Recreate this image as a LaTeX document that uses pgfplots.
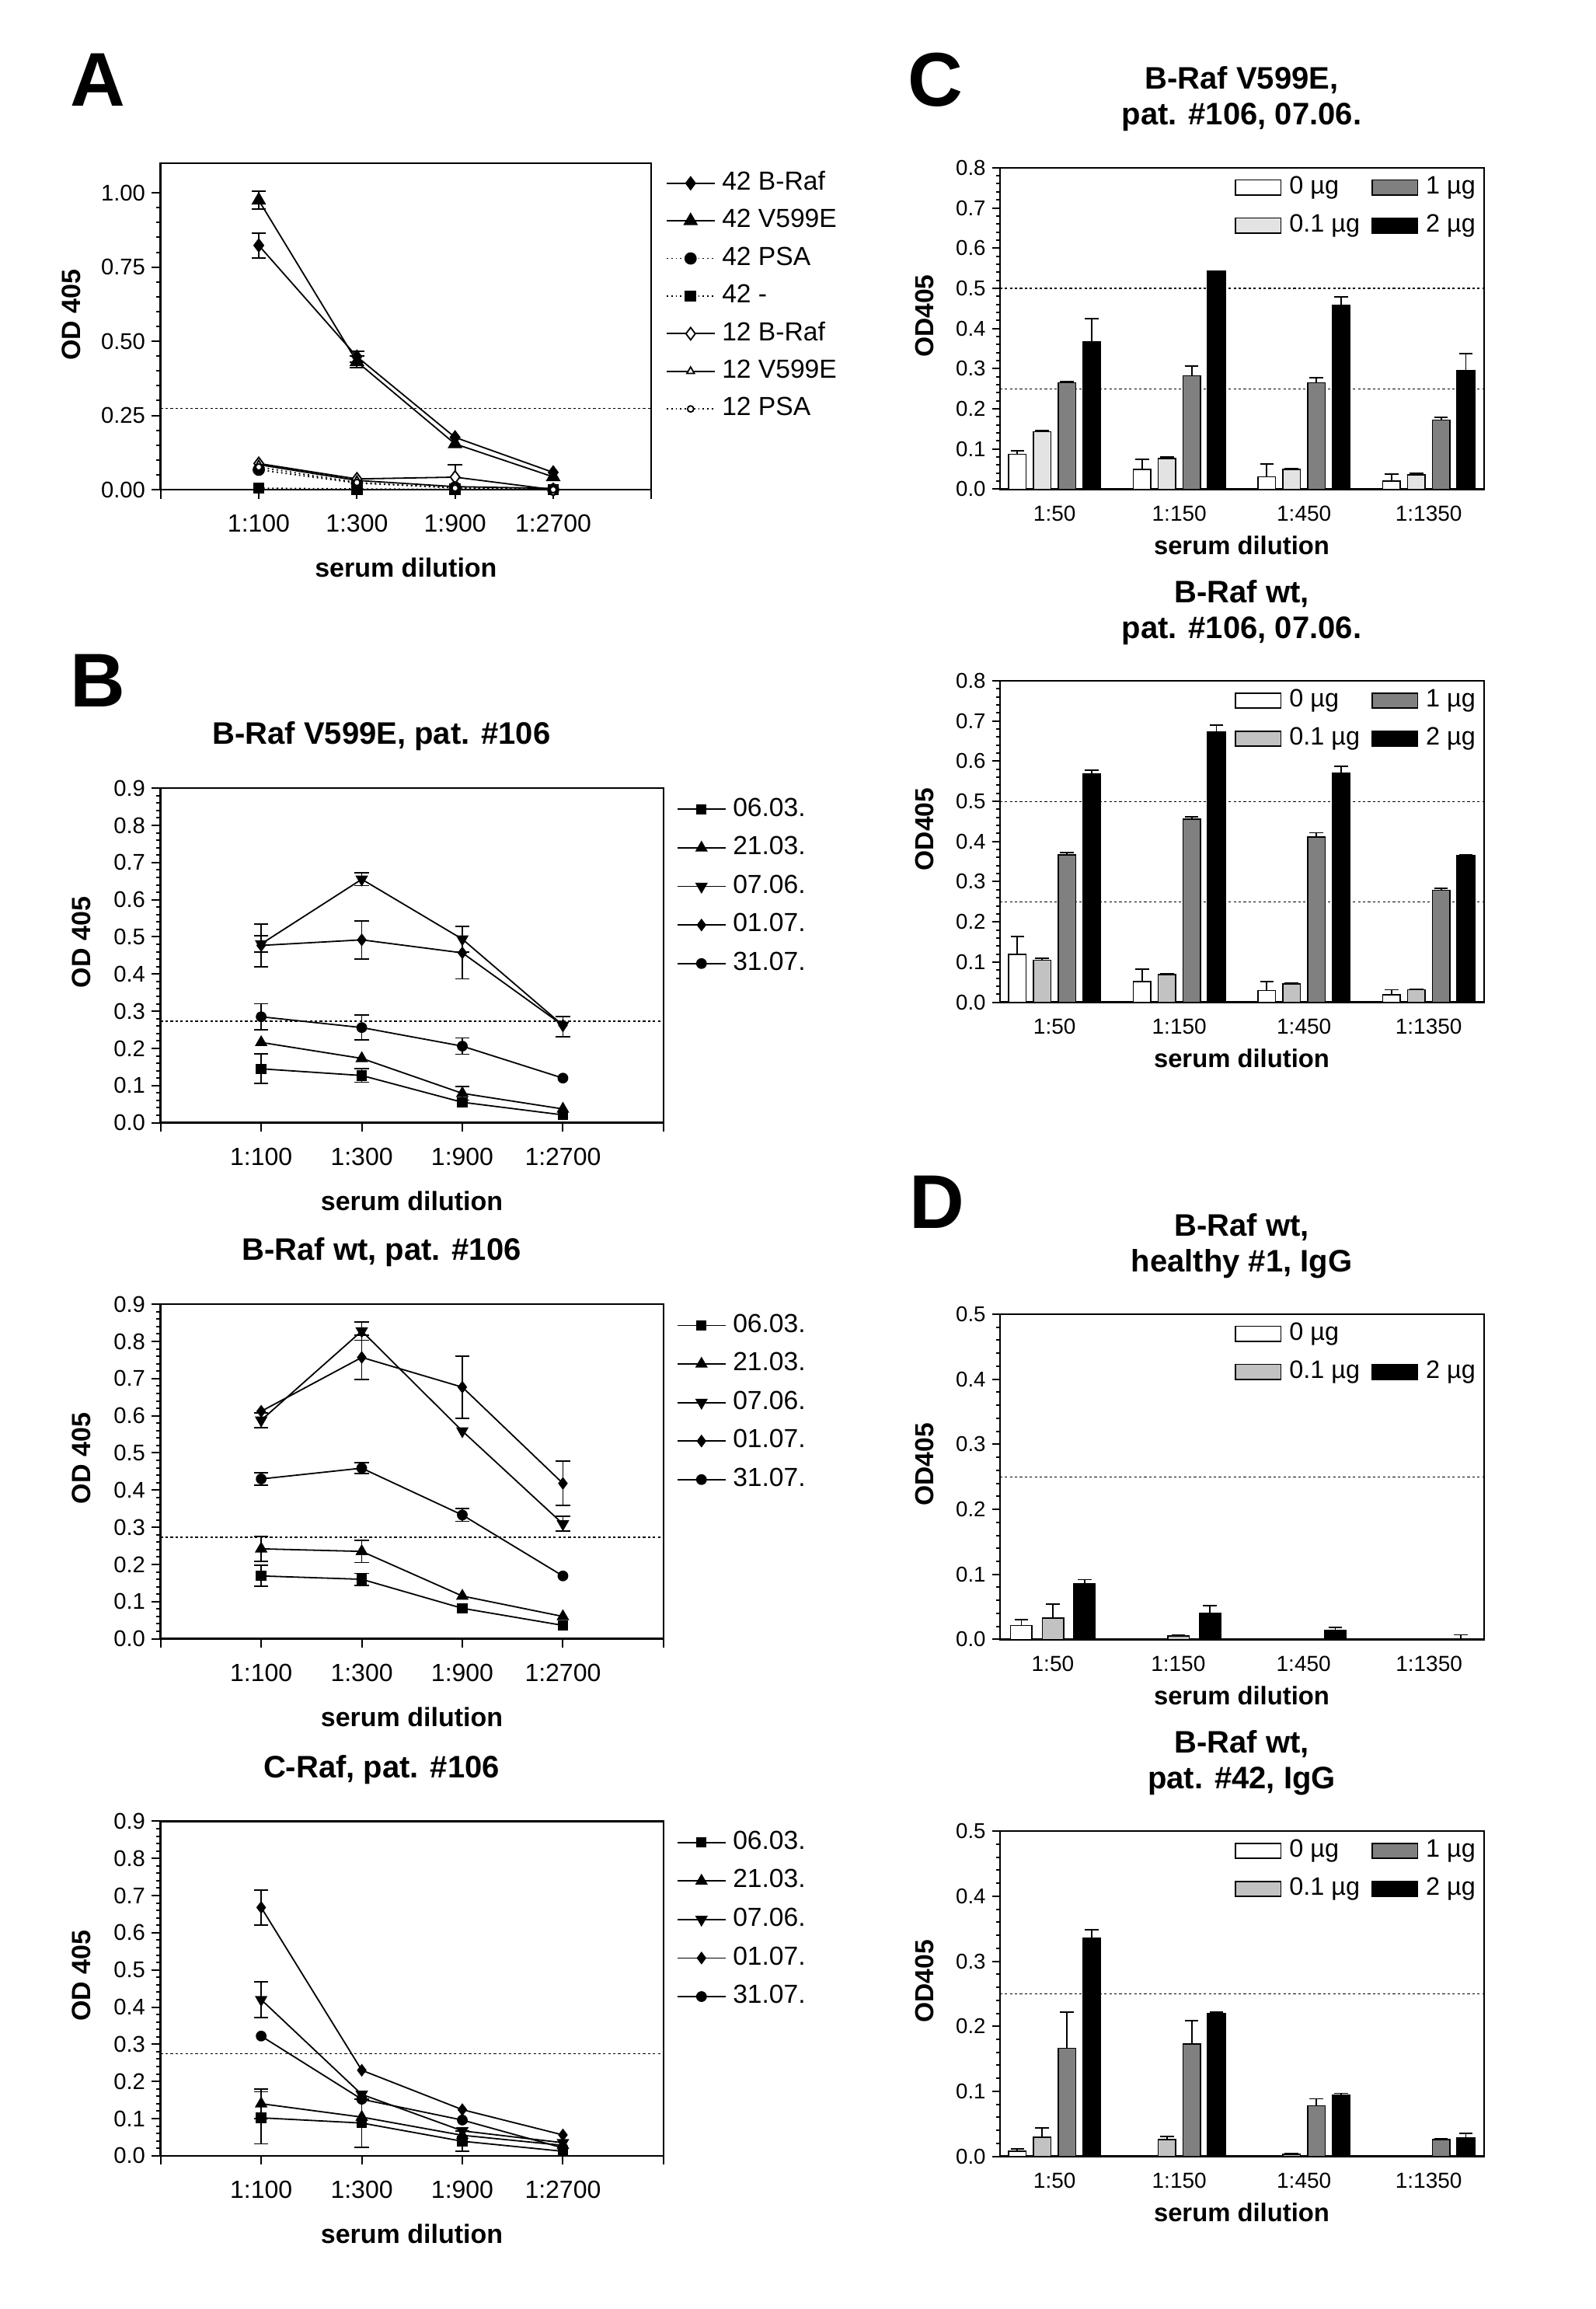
\documentclass[border=0pt]{standalone}
\usepackage{fontspec}
\setmainfont{Liberation Sans}
\usepackage{pgfplots}
\pgfplotsset{compat=1.18}

\newcommand\fs[1]{\fontsize{#1}{#1}\selectfont}

\definecolor{lightgr}{gray}{0.89}
\definecolor{midgr}{gray}{0.76}
\definecolor{darkgr}{gray}{0.5}

\pgfplotsset{
  panel/.style={
    scale only axis, anchor=south west, clip=false,
    axis line style={line width=0.6pt},
    tick style={black, line width=0.5pt},
    tick align=outside, tick pos=left,
    ymin=0, minor y tick num=4,
    /pgf/number format/assume math mode=true,
    yticklabel style={xshift=1.5pt, /pgf/number format/fixed,
      /pgf/number format/fixed zerofill, /pgf/number format/precision=1},
  },
  lines/.style={panel,
    width=161.8pt, height=107.6pt,
    major tick length=2.9pt, minor tick length=1.4pt,
    xmin=0, xmax=5, xtick={0,1,2,3,4,5},
    xticklabels={,1:100,1:300,1:900,1:2700,},
    ymax=0.9, ytick={0,0.1,0.2,0.3,0.4,0.5,0.6,0.7,0.8,0.9},
    xticklabel style={font=\fs{8}, yshift=-1.6pt},
    yticklabel style={font=\fs{7.3}},
    legend style={at={(1,1)}, anchor=north west, xshift=4.1pt, yshift=-0.4pt,
      draw=none, fill=none, inner sep=0pt, column sep=2.2pt, row sep=0pt,
      font=\fs{8.4}, nodes={inner sep=0pt, minimum height=12.4pt}},
    legend cell align=left,
    legend image code/.code={\draw[mark repeat=2, mark phase=2, ##1]
      plot coordinates {(0pt,0pt) (7.7pt,0pt) (15.4pt,0pt)};},
  },
  bars/.style={panel,
    width=155.75pt, height=103.4pt,
    major tick length=2.5pt, minor tick length=1.3pt,
    xmin=0, xmax=623, ymax=0.8,
    ytick={0,0.1,0.2,0.3,0.4,0.5,0.6,0.7,0.8},
    xtick={70.5,231,391.5,552}, xticklabels={1:50,1:150,1:450,1:1350},
    xtick style={draw=none},
    xticklabel style={font=\fs{7}, yshift=0.7pt},
    yticklabel style={font=\fs{6.9}},
    legend style={at={(1,1)}, anchor=north east, xshift=-2.5pt, yshift=0pt,
      draw=none, fill=none, inner sep=0pt, row sep=0pt,
      font=\fs{8.1}, nodes={inner sep=0pt, minimum height=12.25pt},
      /tikz/every odd column/.append style={column sep=2.5pt},
      /tikz/every even column/.append style={column sep=3.75pt}},
    legend cell align=left, transpose legend, legend columns=2,
  },
  ser/.style={black, line width=0.45pt},
  err/.style={forget plot, draw=none, mark=none,
    error bars/y dir=both, error bars/y explicit,
    error bars/error bar style={draw=black, line width=0.45pt, solid},
    error bars/error mark options={draw=black, rotate=90, mark size=2.3pt, line width=0.45pt, solid}},
  berr/.style={forget plot, draw=none, mark=none,
    error bars/y dir=plus, error bars/y explicit,
    error bars/error bar style={draw=black, line width=0.45pt, solid},
    error bars/error mark options={draw=black, rotate=90, mark size=2.2pt, line width=0.45pt, solid}},
  obar/.style={ybar, bar width=#1, bar shift=0pt, draw=black, line width=0.4pt,
    legend image code/.code={\draw[##1] (0pt,-2.4pt) rectangle (14.6pt,2.4pt);}},
  cut/.style={forget plot, black, line width=0.3pt, dash pattern=on 0.8pt off 0.8pt},
  m1/.style={ser, mark=square*, mark size=1.45pt, mark options={solid}},
  m2/.style={ser, mark=triangle*, mark size=1.9pt, mark options={solid}},
  m3/.style={ser, mark=triangle*, mark size=1.9pt, mark options={solid, rotate=180}},
  m4/.style={ser, mark=diamond*, mark size=1.7pt, mark options={solid}},
  m5/.style={ser, mark=*, mark size=1.5pt, mark options={solid}},
}

\begin{document}
\begin{tikzpicture}
\path[use as bounding box] (0,0) rectangle (513.5pt,742.75pt);

% ---------- A ----------
\begin{axis}[lines, at={(51.675pt,585.25pt)}, width=157.9pt, height=105pt,
  ymax=1.1, ytick={0,0.25,0.5,0.75,1},
  yticklabel style={/pgf/number format/precision=2},
  legend style={xshift=0.4pt, yshift=0.2pt, nodes={minimum height=12.1pt}}]
\addplot[cut] coordinates {(0,0.273) (5,0.273)};
\addplot[err] coordinates {(1,0.823) +- (0,0.042) (2,0.448) +- (0,0.018)};
\addplot[err] coordinates {(1,0.975) +- (0,0.03) (2,0.431) +- (0,0.02)};
\addplot[err] coordinates {(3,0.042) +- (0,0.042)};
\addplot[ser, mark=diamond*, mark size=2pt, mark options={solid}] coordinates {(1,0.823) (2,0.448) (3,0.176) (4,0.058)};
\addlegendentry{42 B-Raf}
\addplot[ser, mark=triangle*, mark size=2.3pt, mark options={solid}] coordinates {(1,0.975) (2,0.431) (3,0.154) (4,0.043)};
\addlegendentry{42 V599E}
\addplot[ser, densely dotted, mark=*, mark size=1.75pt, mark options={solid}] coordinates {(1,0.067) (2,0.022) (3,0.007) (4,0)};
\addlegendentry{42 PSA}
\addplot[ser, densely dotted, mark=square*, mark size=1.6pt, mark options={solid}] coordinates {(1,0.005) (2,0.002) (3,0.001) (4,0)};
\addlegendentry{42 -}
\addplot[ser, mark=diamond*, mark size=2pt, mark options={solid, fill=white}] coordinates {(1,0.088) (2,0.036) (3,0.042) (4,0)};
\addlegendentry{12 B-Raf}
\addplot[ser, mark=triangle*, mark size=1.4pt, mark options={solid, fill=white}] coordinates {(1,0.084) (2,0.031) (3,0.01) (4,0.004)};
\addlegendentry{12 V599E}
\addplot[ser, densely dotted, mark=*, mark size=1pt, mark options={solid, fill=white}] coordinates {(1,0.076) (2,0.024) (3,0.005) (4,0)};
\addlegendentry{12 PSA}
\end{axis}

% ---------- B1 ----------
\begin{axis}[lines, at={(51.675pt,381.6pt)}]
\addplot[cut] coordinates {(0,0.273) (5,0.273)};
\addplot[err] coordinates {(1,0.145) +- (0,0.04) (2,0.127) +- (0,0.018)};
\addplot[err] coordinates {(3,0.079) +- (0,0.018)};
\addplot[err] coordinates {(1,0.481) +- (0,0.022) (2,0.655) +- (0,0.017) (3,0.494) +- (0,0.035) (4,0.258) +- (0,0.027)};
\addplot[err] coordinates {(1,0.477) +- (0,0.058) (2,0.492) +- (0,0.051) (3,0.457) +- (0,0.07)};
\addplot[err] coordinates {(1,0.285) +- (0,0.035) (2,0.256) +- (0,0.033) (3,0.206) +- (0,0.022)};
\addplot[m1] coordinates {(1,0.145) (2,0.127) (3,0.055) (4,0.021)};
\addlegendentry{06.03.}
\addplot[m2] coordinates {(1,0.216) (2,0.173) (3,0.079) (4,0.037)};
\addlegendentry{21.03.}
\addplot[m3] coordinates {(1,0.481) (2,0.655) (3,0.494) (4,0.262)};
\addlegendentry{07.06.}
\addplot[m4] coordinates {(1,0.477) (2,0.492) (3,0.457) (4,0.262)};
\addlegendentry{01.07.}
\addplot[m5] coordinates {(1,0.285) (2,0.256) (3,0.206) (4,0.12)};
\addlegendentry{31.07.}
\end{axis}

% ---------- B2 ----------
\begin{axis}[lines, at={(51.675pt,215.6pt)}]
\addplot[cut] coordinates {(0,0.273) (5,0.273)};
\addplot[err] coordinates {(1,0.169) +- (0,0.028) (2,0.160) +- (0,0.016)};
\addplot[err] coordinates {(1,0.242) +- (0,0.034) (2,0.235) +- (0,0.03)};
\addplot[err] coordinates {(1,0.588) +- (0,0.02) (2,0.828) +- (0,0.025) (4,0.309) +- (0,0.02)};
\addplot[err] coordinates {(2,0.757) +- (0,0.06) (3,0.677) +- (0,0.084) (4,0.418) +- (0,0.06)};
\addplot[err] coordinates {(1,0.430) +- (0,0.017) (2,0.459) +- (0,0.015) (3,0.333) +- (0,0.017)};
\addplot[m1] coordinates {(1,0.169) (2,0.160) (3,0.082) (4,0.036)};
\addlegendentry{06.03.}
\addplot[m2] coordinates {(1,0.242) (2,0.235) (3,0.115) (4,0.06)};
\addlegendentry{21.03.}
\addplot[m3] coordinates {(1,0.588) (2,0.828) (3,0.559) (4,0.309)};
\addlegendentry{07.06.}
\addplot[m4] coordinates {(1,0.612) (2,0.757) (3,0.677) (4,0.418)};
\addlegendentry{01.07.}
\addplot[m5] coordinates {(1,0.430) (2,0.459) (3,0.333) (4,0.169)};
\addlegendentry{31.07.}
\end{axis}

% ---------- B3 ----------
\begin{axis}[lines, at={(51.675pt,49.3pt)}]
\addplot[cut] coordinates {(0,0.275) (5,0.275)};
\addplot[err] coordinates {(1,0.102) +- (0,0.07) (2,0.088) +- (0,0.065) (3,0.039) +- (0,0.027)};
\addplot[err] coordinates {(1,0.140) +- (0,0.04)};
\addplot[err] coordinates {(1,0.420) +- (0,0.048)};
\addplot[err] coordinates {(1,0.668) +- (0,0.047)};
\addplot[m1] coordinates {(1,0.102) (2,0.088) (3,0.039) (4,0.012)};
\addlegendentry{06.03.}
\addplot[m2] coordinates {(1,0.140) (2,0.104) (3,0.055) (4,0.028)};
\addlegendentry{21.03.}
\addplot[m3] coordinates {(1,0.420) (2,0.165) (3,0.067) (4,0.035)};
\addlegendentry{07.06.}
\addplot[m4] coordinates {(1,0.668) (2,0.230) (3,0.124) (4,0.056)};
\addlegendentry{01.07.}
\addplot[m5] coordinates {(1,0.322) (2,0.152) (3,0.096) (4,0.021)};
\addlegendentry{31.07.}
\end{axis}

% ---------- C1 ----------
\begin{axis}[bars, at={(321.675pt,585.4pt)}]
\addplot[cut] coordinates {(0,0.25) (623,0.25)};
\addplot[cut] coordinates {(0,0.5) (623,0.5)};
\addplot[obar=22.5, fill=white] coordinates {(22.6,0.087) (183.1,0.049) (343.6,0.031) (504.1,0.020)};
\addlegendentry{0 µg}
\addplot[obar=22.5, fill=lightgr] coordinates {(54.5,0.143) (215.0,0.0765) (375.5,0.049) (536.0,0.035)};
\addlegendentry{0.1 µg}
\addplot[obar=22.5, fill=darkgr] coordinates {(86.4,0.265) (246.9,0.282) (407.4,0.265) (567.9,0.172)};
\addlegendentry{1 µg}
\addplot[obar=22.5, fill=black] coordinates {(118.3,0.367) (278.8,0.543) (439.3,0.457) (599.8,0.295)};
\addlegendentry{2 µg}
\addplot[berr] coordinates {(22.6,0.087) +- (0,0.008) (183.1,0.049) +- (0,0.025) (343.6,0.031) +- (0,0.031) (504.1,0.020) +- (0,0.018)};
\addplot[berr] coordinates {(54.5,0.143) +- (0,0.003) (215.0,0.0765) +- (0,0.003) (375.5,0.049) +- (0,0.002) (536.0,0.035) +- (0,0.005)};
\addplot[berr] coordinates {(86.4,0.265) +- (0,0.003) (246.9,0.282) +- (0,0.024) (407.4,0.265) +- (0,0.013) (567.9,0.172) +- (0,0.007)};
\addplot[berr] coordinates {(118.3,0.367) +- (0,0.057) (439.3,0.457) +- (0,0.022) (599.8,0.295) +- (0,0.042)};
\end{axis}

% ---------- C2 ----------
\begin{axis}[bars, at={(321.675pt,420.35pt)}]
\addplot[cut] coordinates {(0,0.25) (623,0.25)};
\addplot[cut] coordinates {(0,0.5) (623,0.5)};
\addplot[obar=22.5, fill=white] coordinates {(22.6,0.119) (183.1,0.052) (343.6,0.029) (504.1,0.019)};
\addlegendentry{0 µg}
\addplot[obar=22.5, fill=midgr] coordinates {(54.5,0.105) (215.0,0.069) (375.5,0.046) (536.0,0.031)};
\addlegendentry{0.1 µg}
\addplot[obar=22.5, fill=darkgr] coordinates {(86.4,0.367) (246.9,0.456) (407.4,0.411) (567.9,0.279)};
\addlegendentry{1 µg}
\addplot[obar=22.5, fill=black] coordinates {(118.3,0.569) (278.8,0.673) (439.3,0.571) (599.8,0.365)};
\addlegendentry{2 µg}
\addplot[berr] coordinates {(22.6,0.119) +- (0,0.044) (183.1,0.052) +- (0,0.030) (343.6,0.029) +- (0,0.023) (504.1,0.019) +- (0,0.012)};
\addplot[berr] coordinates {(54.5,0.105) +- (0,0.004) (215.0,0.069) +- (0,0.001) (375.5,0.046) +- (0,0.001) (536.0,0.031) +- (0,0.001)};
\addplot[berr] coordinates {(86.4,0.367) +- (0,0.006) (246.9,0.456) +- (0,0.005) (407.4,0.411) +- (0,0.011) (567.9,0.279) +- (0,0.004)};
\addplot[berr] coordinates {(118.3,0.569) +- (0,0.008) (278.8,0.673) +- (0,0.017) (439.3,0.571) +- (0,0.016) (599.8,0.365) +- (0,0.002)};
\end{axis}

% ---------- D1 ----------
\begin{axis}[bars, at={(321.675pt,215.4pt)}, height=104.6pt, ymax=0.5, ytick={0,0.1,0.2,0.3,0.4,0.5},
  xtick={68.2,229.6,391,552.4}]
\addplot[cut] coordinates {(0,0.25) (623,0.25)};
\addplot[obar=27.5, fill=white] coordinates {(27.7,0.0214)};
\addlegendentry{0 µg}
\addplot[obar=27.5, fill=midgr] coordinates {(68.5,0.0327) (229.9,0.005)};
\addlegendentry{0.1 µg}
\addlegendimage{empty legend}
\addlegendentry{}
\addplot[obar=27.5, fill=black] coordinates {(109,0.086) (270.4,0.0405) (431.8,0.0135) (593.2,0.001)};
\addlegendentry{2 µg}
\addplot[berr] coordinates {(27.7,0.0214) +- (0,0.0085)};
\addplot[berr] coordinates {(68.5,0.0327) +- (0,0.022) (229.9,0.005) +- (0,0.001)};
\addplot[berr] coordinates {(109,0.086) +- (0,0.006) (270.4,0.0405) +- (0,0.011) (431.8,0.0135) +- (0,0.005) (593.2,0.001) +- (0,0.006)};
\end{axis}

% ---------- D2 ----------
\begin{axis}[bars, at={(321.675pt,49.1pt)}, height=104.6pt, ymax=0.5, ytick={0,0.1,0.2,0.3,0.4,0.5}]
\addplot[cut] coordinates {(0,0.25) (623,0.25)};
\addplot[obar=22.5, fill=white] coordinates {(22.6,0.0078)};
\addlegendentry{0 µg}
\addplot[obar=22.5, fill=midgr] coordinates {(54.5,0.0295) (215.0,0.0259) (375.5,0.003)};
\addlegendentry{0.1 µg}
\addplot[obar=22.5, fill=darkgr] coordinates {(86.4,0.166) (246.9,0.173) (407.4,0.0776) (567.9,0.026)};
\addlegendentry{1 µg}
\addplot[obar=22.5, fill=black] coordinates {(118.3,0.336) (278.8,0.220) (439.3,0.094) (599.8,0.0284)};
\addlegendentry{2 µg}
\addplot[berr] coordinates {(22.6,0.0078) +- (0,0.0036)};
\addplot[berr] coordinates {(54.5,0.0295) +- (0,0.014) (215.0,0.0259) +- (0,0.005) (375.5,0.003) +- (0,0.001)};
\addplot[berr] coordinates {(86.4,0.166) +- (0,0.056) (246.9,0.173) +- (0,0.036) (407.4,0.0776) +- (0,0.011) (567.9,0.026) +- (0,0.001)};
\addplot[berr] coordinates {(118.3,0.336) +- (0,0.012) (278.8,0.220) +- (0,0.002) (439.3,0.094) +- (0,0.003) (599.8,0.0284) +- (0,0.007)};
\end{axis}

% ---------- panel letters, titles, axis labels ----------
\begin{scope}[every node/.style={inner sep=0pt}]
\node[anchor=base west, font=\bfseries\fs{24.5}] at (22.5pt,708.5pt) {A};
\node[anchor=base west, font=\bfseries\fs{24.5}] at (22.5pt,515.25pt) {B};
\node[anchor=base west, font=\bfseries\fs{24.5}] at (292pt,708.5pt) {C};
\node[anchor=base west, font=\bfseries\fs{24.5}] at (292.5pt,347.5pt) {D};

\node[anchor=base, font=\bfseries\fs{10}] at (122.75pt,503.25pt) {B-Raf V599E, pat. \#106};
\node[anchor=base, font=\bfseries\fs{10}] at (122.75pt,337.25pt) {B-Raf wt, pat. \#106};
\node[anchor=base, font=\bfseries\fs{10}] at (122.75pt,170.9pt) {C-Raf, pat. \#106};

\node[anchor=base, font=\bfseries\fs{10}] at (399.5pt,714pt) {B-Raf V599E,};
\node[anchor=base, font=\bfseries\fs{10}] at (399.5pt,702.5pt) {pat. \#106, 07.06.};
\node[anchor=base, font=\bfseries\fs{10}] at (399.5pt,548.75pt) {B-Raf wt,};
\node[anchor=base, font=\bfseries\fs{10}] at (399.5pt,537.25pt) {pat. \#106, 07.06.};
\node[anchor=base, font=\bfseries\fs{10}] at (399.5pt,345pt) {B-Raf wt,};
\node[anchor=base, font=\bfseries\fs{10}] at (399.5pt,333.5pt) {healthy \#1, IgG};
\node[anchor=base, font=\bfseries\fs{10}] at (399.5pt,178.75pt) {B-Raf wt,};
\node[anchor=base, font=\bfseries\fs{10}] at (399.5pt,167.25pt) {pat. \#42, IgG};

\node[anchor=base, font=\bfseries\fs{8.5}] at (130.6pt,557pt) {serum dilution};
\node[anchor=base, font=\bfseries\fs{8.5}] at (132.5pt,353.4pt) {serum dilution};
\node[anchor=base, font=\bfseries\fs{8.5}] at (132.5pt,187.4pt) {serum dilution};
\node[anchor=base, font=\bfseries\fs{8.5}] at (132.5pt,21.05pt) {serum dilution};
\node[anchor=base, font=\bfseries\fs{8.2}] at (399.5pt,564.4pt) {serum dilution};
\node[anchor=base, font=\bfseries\fs{8.2}] at (399.5pt,399.35pt) {serum dilution};
\node[anchor=base, font=\bfseries\fs{8.2}] at (399.5pt,194.4pt) {serum dilution};
\node[anchor=base, font=\bfseries\fs{8.2}] at (399.5pt,28.1pt) {serum dilution};

\node[rotate=90, font=\bfseries\fs{8.5}] at (22.9pt,641.5pt) {OD 405};
\node[rotate=90, font=\bfseries\fs{8.5}] at (26.25pt,439.6pt) {OD 405};
\node[rotate=90, font=\bfseries\fs{8.5}] at (26.25pt,273.6pt) {OD 405};
\node[rotate=90, font=\bfseries\fs{8.5}] at (26.25pt,107.25pt) {OD 405};
\node[rotate=90, font=\bfseries\fs{8.4}] at (297.4pt,641.1pt) {OD405};
\node[rotate=90, font=\bfseries\fs{8.4}] at (297.4pt,476pt) {OD405};
\node[rotate=90, font=\bfseries\fs{8.4}] at (297.4pt,271.7pt) {OD405};
\node[rotate=90, font=\bfseries\fs{8.4}] at (297.4pt,105.4pt) {OD405};
\end{scope}
\end{tikzpicture}
\end{document}
